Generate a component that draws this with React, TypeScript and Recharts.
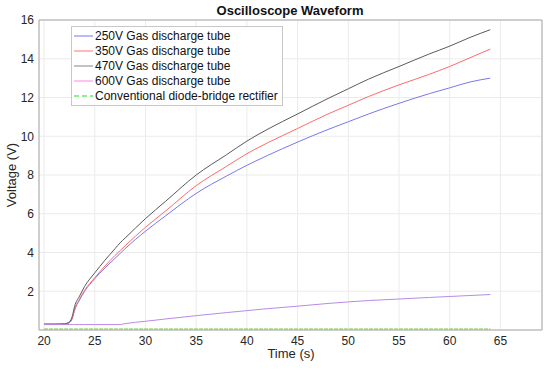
import { LineChart, Line, XAxis, YAxis, CartesianGrid, ReferenceLine } from "recharts";

const times = [20, 21, 22, 22.5, 22.8, 23, 23.5, 24, 25, 26, 27, 27.5, 28, 30, 32, 35, 38, 40, 42, 45, 48, 50, 52, 55, 58, 60, 62, 64];

const tube250 = [0.3, 0.3, 0.3, 0.38, 0.62, 1.0, 1.55, 2.0, 2.65, 3.2, 3.7, 3.95, 4.2, 5.1, 5.9, 7.05, 7.95, 8.5, 9.0, 9.7, 10.35, 10.75, 11.15, 11.7, 12.2, 12.5, 12.8, 13.0];
const tube350 = [0.3, 0.3, 0.3, 0.38, 0.65, 1.05, 1.6, 2.05, 2.7, 3.3, 3.85, 4.1, 4.35, 5.3, 6.15, 7.45, 8.45, 9.1, 9.65, 10.4, 11.15, 11.6, 12.05, 12.65, 13.2, 13.6, 14.05, 14.5];
const tube470 = [0.3, 0.3, 0.32, 0.42, 0.75, 1.2, 1.75, 2.25, 2.95, 3.6, 4.2, 4.5, 4.75, 5.75, 6.65, 8.0, 9.05, 9.75, 10.35, 11.15, 11.95, 12.45, 12.95, 13.6, 14.25, 14.65, 15.1, 15.5];
const tube600 = [0.28, 0.28, 0.28, 0.28, 0.28, 0.28, 0.28, 0.28, 0.28, 0.28, 0.28, 0.28, 0.33, 0.45, 0.57, 0.74, 0.9, 1.0, 1.1, 1.23, 1.37, 1.45, 1.52, 1.6, 1.68, 1.73, 1.78, 1.83];
const rectifier = [0.05, 0.05, 0.05, 0.05, 0.05, 0.05, 0.05, 0.05, 0.05, 0.05, 0.05, 0.05, 0.05, 0.05, 0.05, 0.05, 0.05, 0.05, 0.05, 0.05, 0.05, 0.05, 0.05, 0.05, 0.05, 0.05, 0.05, 0.05];

const xTicks = [20, 25, 30, 35, 40, 45, 50, 55, 60, 65];
const yTicks = [2, 4, 6, 8, 10, 12, 14, 16];

const series = [
  { key: "v250", name: "250V Gas discharge tube", color: "#7878f0", legend: "#8c8cf5", dash: undefined },
  { key: "v350", name: "350V Gas discharge tube", color: "#ff6a6a", legend: "#ff8c8c", dash: undefined },
  { key: "v470", name: "470V Gas discharge tube", color: "#5a5a5a", legend: "#9a9a9a", dash: undefined },
  { key: "v600", name: "600V Gas discharge tube", color: "#b98ae8", legend: "#ff99ee", dash: undefined },
  { key: "diode", name: "Conventional diode-bridge rectifier", color: "#72c83c", legend: "#22dd22", dash: "4 1" },
];

const data = times.map((t, i) => ({
  t,
  v250: tube250[i],
  v350: tube350[i],
  v470: tube470[i],
  v600: tube600[i],
  diode: rectifier[i],
}));

const font = "'Liberation Sans', Arial, sans-serif";

function LegendBox() {
  return (
    <div
      style={{
        position: "absolute",
        left: 71,
        top: 26,
        border: "1px solid #c8c8c8",
        background: "#fff",
        padding: "1px 4px 2px 2px",
        fontFamily: font,
        fontSize: 12,
        color: "#111",
        whiteSpace: "nowrap",
      }}
    >
      {series.map((s) => (
        <div key={s.key} style={{ display: "flex", alignItems: "center", height: 15 }}>
          <svg width={19} height={6} style={{ marginRight: 2 }}>
            <line x1={0} y1={3} x2={19} y2={3} stroke={s.legend} strokeWidth={1.2} strokeDasharray={s.dash ? "5 3" : undefined} />
          </svg>
          <span>{s.name}</span>
        </div>
      ))}
    </div>
  );
}

export default function App() {
  return (
    <div style={{ position: "absolute", left: 0, top: 0, width: 550, height: 370, background: "#fff" }}>
      <LineChart width={550} height={370} data={data} margin={{ top: 20, right: 8, left: 9, bottom: 15 }}>
        <CartesianGrid stroke="#ebebeb" />
        <XAxis
          dataKey="t"
          type="number"
          domain={[19.5, 69.1]}
          ticks={xTicks}
          allowDataOverflow
          height={25}
          tickLine={false}
          tickSize={0}
          tickMargin={6}
          stroke="#a8a8a8"
          tick={{ fill: "#262626", fontSize: 12, fontFamily: font }}
        />
        <YAxis
          type="number"
          domain={[0, 16]}
          ticks={yTicks}
          width={30}
          tickLine={false}
          tickSize={0}
          tickMargin={5}
          stroke="#a8a8a8"
          tick={{ fill: "#262626", fontSize: 12, fontFamily: font }}
        />
        <ReferenceLine y={16} stroke="#a8a8a8" />
        <ReferenceLine x={69.1} stroke="#a8a8a8" />
        {series.map((s) => (
          <Line
            key={s.key}
            type="monotone"
            dataKey={s.key}
            name={s.name}
            stroke={s.color}
            strokeWidth={1}
            strokeDasharray={s.dash}
            dot={false}
            isAnimationActive={false}
          />
        ))}
        <text x={290} y={15} textAnchor="middle" fontFamily={font} fontSize={13} fontWeight="bold" fill="#111">
          Oscilloscope Waveform
        </text>
        <text x={291} y={358} textAnchor="middle" fontFamily={font} fontSize={13} fill="#262626">
          Time (s)
        </text>
        <text x={16} y={175} textAnchor="middle" fontFamily={font} fontSize={13} fill="#262626" transform="rotate(-90 16 175)">
          Voltage (V)
        </text>
      </LineChart>
      <LegendBox />
    </div>
  );
}
